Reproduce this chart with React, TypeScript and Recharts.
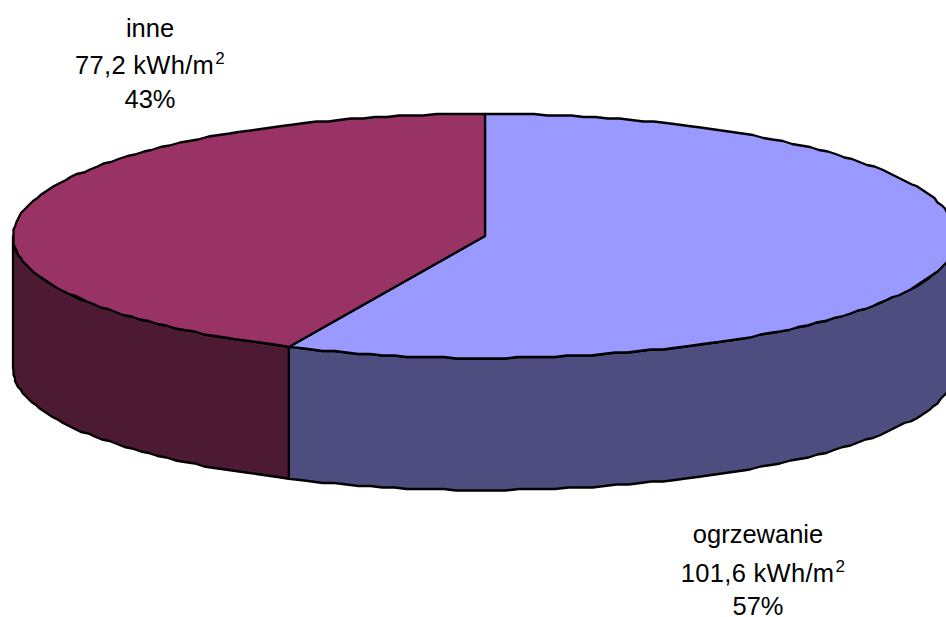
import { Pie, PieChart } from "recharts";

const categories = ["ogrzewanie", "inne"];
const values = [101.6, 77.2];
const topColors = ["#9999ff", "#993366"];
const sideColors = ["#4d4d80", "#4d1a33"];

const WIDTH = 946;
const HEIGHT = 617;
const CX = 485;
const CY = 236;
const RX = 472;
const RY = 122;
const DEPTH = 132;
const GRID = 1.5; // outline is snapped to a coarse grid, gives the stepped edge
const FONT = "'Liberation Sans', Arial, sans-serif";

// where each label block sits, one entry per category
const labelBoxes = [
  { x: 758, y: 543, gaps: [39, 33], valueShift: 5 },
  { x: 150, y: 37, gaps: [37, 34], valueShift: 0 },
];

const data = categories.map((name, i) => ({
  name,
  value: values[i],
  fill: topColors[i],
}));

const rad = (deg: number) => (deg * Math.PI) / 180;
const px = (a: number) => CX + RX * Math.cos(rad(a));
const py = (a: number, drop = 0) => CY - RY * Math.sin(rad(a)) + drop;
const snap = (v: number) => Math.round(v / GRID) * GRID;

// Rim of the ellipse between two angles, as a stepped polyline
function rim(a1: number, a2: number, drop: number) {
  const steps = Math.max(1, Math.round(Math.abs(a2 - a1) / 1.5));
  const pts: string[] = [];
  for (let i = 0; i <= steps; i++) {
    const a = a1 + ((a2 - a1) * i) / steps;
    const edge = i === 0 || i === steps;
    const x = edge ? px(a) : snap(px(a));
    const y = edge ? py(a, drop) : snap(py(a, drop));
    pts.push(`${x} ${y}`);
  }
  return pts;
}

// Flat sector plus the visible part of its outer wall (front half only)
function PieSlice(props: any) {
  const { startAngle, endAngle, index } = props;
  const top = `M ${CX} ${CY} L ${rim(startAngle, endAngle, 0).join(" L ")} Z`;

  // front of the disc runs from 0 down to -180
  const hi = Math.min(startAngle, 0);
  const lo = Math.max(endAngle, -180);
  const wall =
    hi > lo
      ? `M ${[...rim(hi, lo, 0), ...rim(lo, hi, DEPTH)].join(" L ")} Z`
      : null;

  return (
    <g>
      {wall && (
        <path
          d={wall}
          fill={sideColors[index]}
          stroke="#000"
          strokeWidth={2.3}
          strokeLinejoin="round"
        />
      )}
      <path
        d={top}
        fill={topColors[index]}
        stroke="#000"
        strokeWidth={2.3}
        strokeLinejoin="round"
      />
    </g>
  );
}

function SliceLabel(props: any) {
  const { index, name, value, percent } = props;
  const box = labelBoxes[index];
  const shared = {
    x: box.x,
    textAnchor: "middle" as const,
    fill: "#000",
    fontFamily: FONT,
    fontSize: 25.5,
  };
  return (
    <g>
      <text {...shared} y={box.y}>
        {name}
      </text>
      <text
        {...shared}
        x={box.x + box.valueShift}
        y={box.y + box.gaps[0]}
        letterSpacing={0.3}
      >
        {String(value).replace(".", ",")} kWh/m
        <tspan fontSize={17} dx={1} dy={-10}>
          2
        </tspan>
      </text>
      <text {...shared} y={box.y + box.gaps[0] + box.gaps[1]}>
        {Math.round(percent * 100)}%
      </text>
    </g>
  );
}

export default function App() {
  return (
    <div style={{ position: "absolute", left: 0, top: 0, width: WIDTH, height: HEIGHT, overflow: "hidden", background: "#fff" }}>
      <PieChart width={WIDTH} height={HEIGHT} margin={{ top: 0, right: 0, bottom: 0, left: 0 }}>
        <Pie
          data={data}
          dataKey="value"
          nameKey="name"
          cx={CX}
          cy={CY}
          innerRadius={0}
          outerRadius={RX}
          startAngle={90}
          endAngle={-270}
          shape={PieSlice}
          label={SliceLabel}
          labelLine={false}
          isAnimationActive={false}
        />
      </PieChart>
    </div>
  );
}
